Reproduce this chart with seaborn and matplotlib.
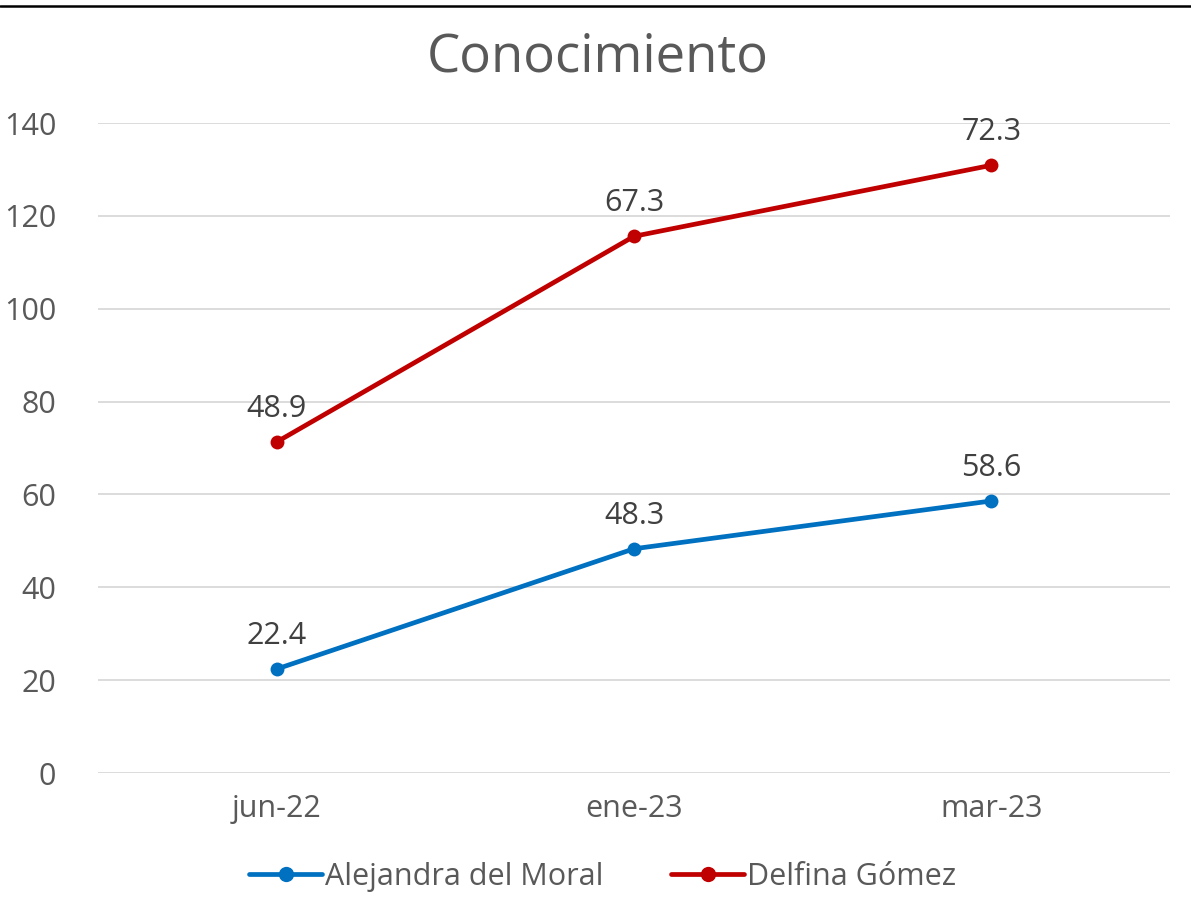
import matplotlib
matplotlib.use("Agg")
import matplotlib.pyplot as plt
from matplotlib.lines import Line2D
import seaborn as sns
import pandas as pd
import numpy as np

categories = ["jun-22", "ene-23", "mar-23"]
series_names = ["Alejandra del Moral", "Delfina Gómez"]
alejandra = [22.4, 48.3, 58.6]
delfina = [48.9, 67.3, 72.3]
colors = ["#0070C0", "#C00000"]

sns.set_theme(style="white")
plt.rcParams['font.family'] = ['Open Sans', 'DejaVu Sans']
text_color = "#595959"

# stacked line chart: second series sits on top of first
stack_base = np.array(alejandra)
stacked_delfina = stack_base + np.array(delfina)

df = pd.DataFrame({
    "cat": list(range(len(categories))) * 2,
    "value": list(alejandra) + list(stacked_delfina),
    "label": list(alejandra) + list(delfina),
    "serie": [series_names[0]] * 3 + [series_names[1]] * 3,
})

fig = plt.figure(figsize=(11.91, 9.16), dpi=100)
ax = fig.add_axes([0.0823, 0.1561, 0.9001, 0.7096])

sns.lineplot(data=df, x="cat", y="value", hue="serie", palette=colors,
             marker="o", markersize=10, markeredgewidth=0, linewidth=3.4,
             ax=ax, legend=False)

for _, r in df.iterrows():
    ax.annotate(f"{r['label']:.1f}", (r["cat"], r["value"]), xytext=(0, 13),
                textcoords="offset points", ha="center", va="bottom",
                fontsize=22, color="#404040")

ax.set_xlim(-0.5, 2.5)
ax.set_ylim(0, 140)
ax.set_yticks(range(0, 141, 20))
ax.set_xticks(range(3))
ax.set_xticklabels(categories)
ax.tick_params(axis="both", labelsize=22, colors=text_color, length=0)
ax.tick_params(axis="y", pad=30)
ax.tick_params(axis="x", pad=15)
ax.grid(axis="y", color="#D9D9D9", linewidth=1.3)
ax.set_axisbelow(True)
for s in ax.spines.values():
    s.set_visible(False)
ax.set_xlabel("")
ax.set_ylabel("")

fig.text(0.502, 0.937, "Conocimiento", ha="center", va="center",
         fontsize=38, color=text_color)

handles = [Line2D([0], [0], color=c, linewidth=3.4, marker="o", markersize=11,
                  markeredgewidth=0) for c in colors]
fig.legend(handles, series_names, loc="center", bbox_to_anchor=(0.506, 0.043),
           ncol=2, frameon=False, fontsize=22, labelcolor=text_color,
           handlelength=2.4, handletextpad=0.1, columnspacing=2.2)

fig.add_artist(Line2D([0, 1], [1 - 5.5 / 916, 1 - 5.5 / 916], color="black",
                      linewidth=1.8, transform=fig.transFigure))

fig.savefig("out.png", dpi=100)
